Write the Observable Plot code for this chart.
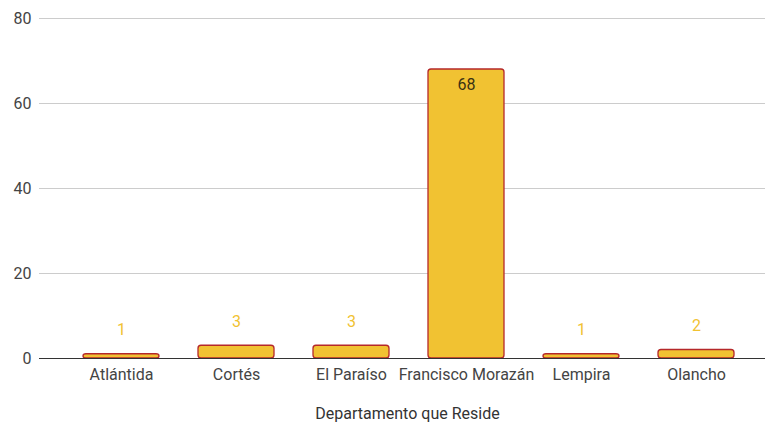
<!DOCTYPE html>
<html>
<head>
<meta charset="utf-8">
<script src="https://cdn.jsdelivr.net/npm/d3@7"></script>
<script src="https://cdn.jsdelivr.net/npm/@observablehq/plot@0.6"></script>
<style>
  html, body { margin: 0; padding: 0; background: #fff; }
  svg { display: block; }
</style>
</head>
<body>
<div id="chart"></div>
<script>
const departamentos = ["Atlántida", "Cortés", "El Paraíso", "Francisco Morazán", "Lempira", "Olancho"];
const conteos = [1, 3, 3, 68, 1, 2];
const yTicks = [0, 20, 40, 60, 80];
const xTitle = "Departamento que Reside";

const data = departamentos.map((d, i) => ({dep: d, n: conteos[i]}));
const small = data.filter(d => d.n < 10);
const big = data.filter(d => d.n >= 10);

const chart = Plot.plot({
  width: 765,
  height: 429,
  marginLeft: 39,
  marginRight: 0,
  marginTop: 18,
  marginBottom: 71,
  style: {fontFamily: "Roboto, sans-serif", fontSize: "16px", color: "#444", background: "#fff"},
  x: {domain: departamentos, range: [80, 736.5], paddingInner: 0.335, paddingOuter: 0, label: null},
  y: {domain: [0, 80], label: null},
  marks: [
    Plot.gridY(yTicks, {stroke: "#ccc", strokeOpacity: 1, strokeWidth: 1}),
    Plot.axisY(yTicks, {tickSize: 0, tickPadding: 8, fontSize: 16, fill: "#444", label: null}),
    Plot.axisX({tickSize: 0, tickPadding: 10, fontSize: 16, fill: "#444", label: null}),
    Plot.barY(data, {x: "dep", y: "n", fill: "#f1c232", stroke: "#b5282a", strokeWidth: 1.3, rx: 3}),
    Plot.ruleY([0], {stroke: "#333", strokeWidth: 1}),
    Plot.text(small, {x: "dep", y: "n", text: d => String(d.n), dy: -24, fill: "#f1c232", fontSize: 16}),
    Plot.text(big, {x: "dep", y: "n", text: d => String(d.n), dy: 15, fill: "#3a3212", fontSize: 16}),
    Plot.text([xTitle], {frameAnchor: "bottom", dy: 60, dx: 5, text: d => d, fill: "#333", fontSize: 16})
  ]
});
document.getElementById("chart").appendChild(chart);
</script>
</body>
</html>
